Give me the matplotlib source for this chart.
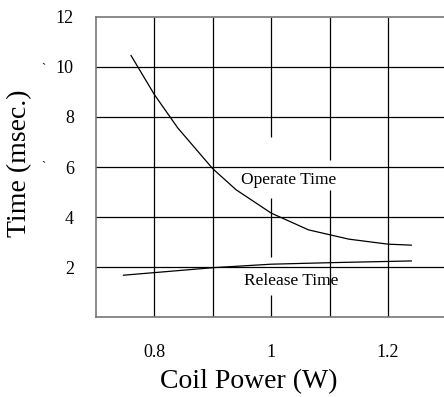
import matplotlib
matplotlib.use("Agg")
import matplotlib.pyplot as plt

plt.rcParams['font.family'] = ['Liberation Serif', 'DejaVu Serif']

# Data
operate_power = [0.76, 0.80, 0.84, 0.90, 0.94, 1.00, 1.064, 1.133, 1.20, 1.24]
operate_time = [10.45, 8.89, 7.56, 5.93, 5.09, 4.16, 3.49, 3.12, 2.92, 2.88]
release_power = [0.747, 0.90, 1.00, 1.10, 1.24]
release_time = [1.68, 1.98, 2.12, 2.18, 2.25]

x_ticks = [0.8, 1.0, 1.2]
x_tick_labels = ['0.8', '1', '1.2']
y_ticks = [2, 4, 6, 8, 10, 12]
y_tick_labels = ['2', '4', '6', '8', '10', '12']
x_grid = [0.8, 0.9, 1.0, 1.1, 1.2]
y_grid = [2, 4, 6, 8, 10]

W, H = 444, 397
fig = plt.figure(figsize=(W / 100, H / 100), dpi=100)
ax = fig.add_axes([96 / W, 1 - 317.3 / H, (W - 96) / W, (317.3 - 16.7) / H])
ax.set_xlim(0.7, 1.296)
ax.set_ylim(0, 12)

# grid (vertical lines at 1.0 and 1.1 have gaps around the labels, as in the reference)
gaps = {1.0: [(4.77, 7.21), (0.89, 2.41)], 1.1: [(5.09, 6.29)]}
for xg in x_grid:
    segs = [(0, 12)]
    for g0, g1 in sorted(gaps.get(xg, []), key=lambda g: -g[0]):
        new = []
        for a, b in segs:
            if g0 > a and g1 < b:
                new += [(a, g0), (g1, b)]
            else:
                new.append((a, b))
        segs = new
    for a, b in segs:
        ax.vlines(xg, a, b, color='black', lw=0.9, zorder=1)
for yg in y_grid:
    ax.axhline(yg, color='black', lw=0.9, zorder=1)

ax.plot(operate_power, operate_time, color='black', lw=0.9, zorder=3)
ax.plot(release_power, release_time, color='black', lw=0.9, zorder=3)

ax.text(1.03, 5.49, 'Operate Time', fontsize=12.5, ha='center', va='center')
ax.text(1.034, 1.43, 'Release Time', fontsize=12.5, ha='center', va='center')

ax.set_xticks(x_ticks)
ax.set_xticklabels(x_tick_labels, fontsize=13)
ax.set_yticks(y_ticks)
ax.set_yticklabels(y_tick_labels, fontsize=13)
ax.tick_params(axis='both', length=0)
ax.tick_params(axis='x', pad=19)
ax.tick_params(axis='y', pad=16)

for s in ['left', 'bottom', 'top']:
    ax.spines[s].set_color('#777777')
    ax.spines[s].set_linewidth(1.2)
ax.spines['right'].set_visible(False)

fig.text(249 / W, 1 - 381.7 / H, 'Coil Power (W)', fontsize=20, ha='center', va='center')
fig.text(20 / W, 1 - 163 / H, 'Time (msec.)', fontsize=20, ha='center', va='center', rotation=90)

# small stray marks beside the y labels in the reference
fig.text(43 / W, 1 - 69 / H, '`', fontsize=9, ha='center', va='center')
fig.text(43 / W, 1 - 167 / H, '`', fontsize=9, ha='center', va='center')

fig.savefig('out.png', dpi=100)
